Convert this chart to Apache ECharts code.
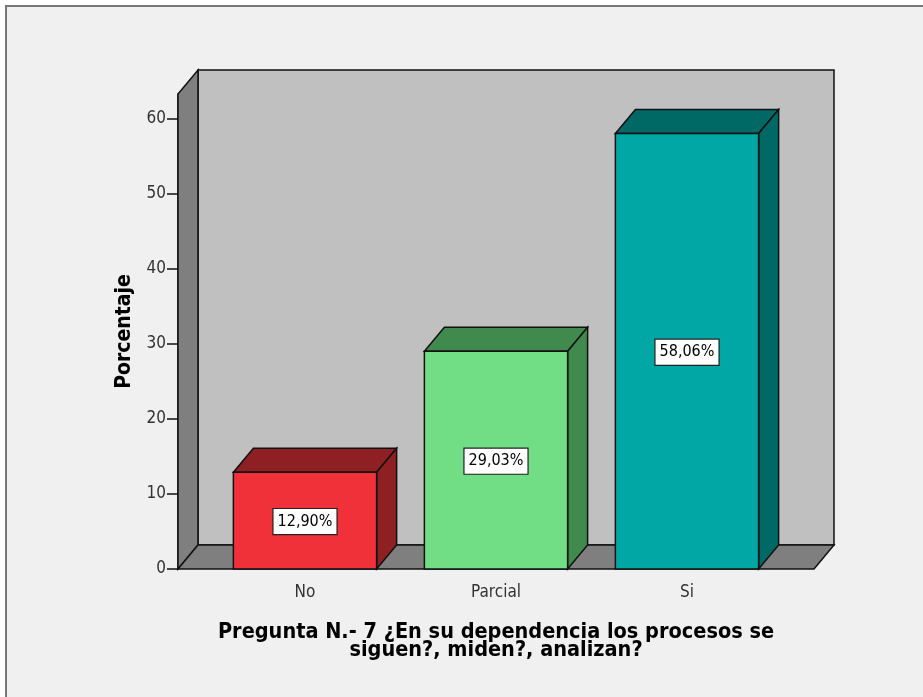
<!DOCTYPE html>
<html>
<head>
<meta charset="utf-8">
<script src="https://cdn.jsdelivr.net/npm/echarts@6/dist/echarts.min.js"></script>
<style>
    html, body { margin: 0; padding: 0; background: #fff; }
    #chart { width: 923px; height: 697px; }
</style>
</head>
<body>
<div id="chart"></div>
<script>
// 数据 ===================
var categories = ['No', 'Parcial', 'Si']
var percentages = [12.90, 29.03, 58.06]
var yMax = 63.33
var yStep = 10
var xTitle = 'Pregunta N.- 7 ¿En su dependencia los procesos se\nsiguen?, miden?, analizan?'
var yTitle = 'Porcentaje'

// 样式 ===================
var FONT = '"DejaVu Sans Condensed", "DejaVu Sans", sans-serif'
var DX = 20, DY = -24          // 3D depth offset
var BAR_FRONT = ['#f03139', '#71dd84', '#00a7a5']
var BAR_SIDE = ['#8e1f23', '#3f8a4c', '#006865']
var WALL_BACK = '#c0c0c0'
var WALL_SIDE = '#7f7f7f'

var myChart = echarts.init(document.getElementById('chart'))

var barData = categories.map(function (c, i) {
    return [i, percentages[i]]
})

function edge(fill) {
    return { fill: fill, stroke: '#111', lineWidth: 1.5 }
}

// 背景墙 + 地板
function renderWalls(params, api) {
    var cs = params.coordSys
    var x0 = cs.x, x1 = cs.x + cs.width, y0 = cs.y, y1 = cs.y + cs.height
    return {
        type: 'group',
        children: [
            { type: 'polygon', shape: { points: [[x0 + DX, y0 + DY], [x1 + DX, y0 + DY], [x1 + DX, y1 + DY], [x0 + DX, y1 + DY]] }, style: edge(WALL_BACK) },
            { type: 'polygon', shape: { points: [[x0, y0], [x0 + DX, y0 + DY], [x0 + DX, y1 + DY], [x0, y1]] }, style: edge(WALL_SIDE) },
            { type: 'polygon', shape: { points: [[x0, y1], [x0 + DX, y1 + DY], [x1 + DX, y1 + DY], [x1, y1]] }, style: edge(WALL_SIDE) }
        ]
    }
}

// 3D 柱子
function renderBar(params, api) {
    var i = api.value(0)
    var v = api.value(1)
    var top = api.coord([i, v])
    var base = api.coord([i, 0])
    var w = api.size([1, 0])[0] * 0.75
    var xa = top[0] - w / 2, xb = top[0] + w / 2
    var yt = top[1], yb = base[1]
    var k = params.dataIndex
    return {
        type: 'group',
        children: [
            { type: 'polygon', shape: { points: [[xa, yt], [xa + DX, yt + DY], [xb + DX, yt + DY], [xb, yt]] }, style: edge(BAR_SIDE[k]) },
            { type: 'polygon', shape: { points: [[xb, yt], [xb + DX, yt + DY], [xb + DX, yb + DY], [xb, yb]] }, style: edge(BAR_SIDE[k]) },
            { type: 'rect', shape: { x: xa, y: yt, width: w, height: yb - yt }, style: edge(BAR_FRONT[k]) },
            {
                type: 'text',
                x: top[0],
                y: (yt + yb) / 2 + 1,
                style: {
                    text: v.toFixed(2).replace('.', ',') + '%',
                    fontFamily: FONT,
                    fontSize: 16,
                    fill: '#000',
                    align: 'center',
                    verticalAlign: 'middle',
                    backgroundColor: '#fff',
                    borderColor: '#222',
                    borderWidth: 1.2,
                    padding: [5, 4, 4, 4]
                }
            }
        ]
    }
}

var option = {
    backgroundColor: '#fff',
    animation: false,
    graphic: [{
        type: 'rect',
        z: -10,
        shape: { x: 6, y: 6, width: 940, height: 720 },
        style: { fill: '#f0f0f0', stroke: '#777', lineWidth: 2 }
    }],
    grid: [
        { left: 178, top: 94, width: 636, height: 475 },
        { left: 209.5, top: 94, width: 573, height: 475 }
    ],
    xAxis: [
        { gridIndex: 0, type: 'value', min: 0, max: 1, show: false },
        {
            gridIndex: 1,
            type: 'category',
            data: categories,
            axisLine: { show: false },
            axisTick: { alignWithLabel: true, length: 10, lineStyle: { color: '#111', width: 1.5 } },
            axisLabel: { margin: 15, color: '#333', fontSize: 17, fontFamily: FONT },
            name: xTitle,
            nameLocation: 'middle',
            nameGap: 54,
            nameTextStyle: { color: '#000', fontSize: 21.5, fontWeight: 'bold', fontFamily: FONT, lineHeight: 18, align: 'center' }
        }
    ],
    yAxis: [
        {
            gridIndex: 0,
            type: 'value',
            min: 0,
            max: yMax,
            interval: yStep,
            axisLine: { show: true, lineStyle: { color: '#111', width: 1.5 } },
            axisTick: { show: true, length: 11, lineStyle: { color: '#111', width: 1.5 } },
            axisLabel: { margin: 12, color: '#333', fontSize: 17, fontFamily: FONT, showMaxLabel: false },
            splitLine: { show: false },
            name: yTitle,
            nameLocation: 'middle',
            nameGap: 43,
            nameTextStyle: { color: '#000', fontSize: 21, fontWeight: 'bold', fontFamily: FONT }
        },
        { gridIndex: 1, type: 'value', min: 0, max: yMax, show: false, splitLine: { show: false } }
    ],
    series: [
        {
            type: 'custom',
            xAxisIndex: 0,
            yAxisIndex: 0,
            z: 1,
            silent: true,
            renderItem: renderWalls,
            data: [[0, 0]]
        },
        {
            type: 'custom',
            xAxisIndex: 1,
            yAxisIndex: 1,
            z: 2,
            renderItem: renderBar,
            encode: { x: 0, y: 1 },
            data: barData
        }
    ]
}

myChart.setOption(option)
window.addEventListener('resize', function () {
    myChart.resize()
})
</script>
</body>
</html>
